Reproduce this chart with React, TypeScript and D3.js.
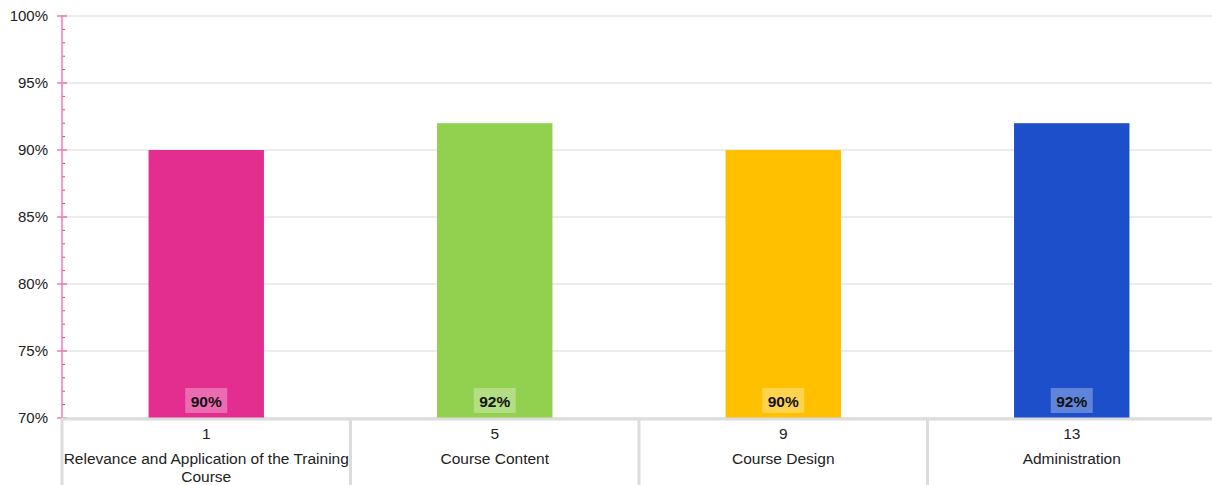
import React from "react";
import * as d3 from "d3";

const categories = ["1", "5", "9", "13"];
const names = [
  ["Relevance and Application of the Training", "Course"],
  ["Course Content"],
  ["Course Design"],
  ["Administration"],
];
const values = [90, 92, 90, 92];
const colors = ["#E32D8F", "#92D050", "#FFC000", "#1C4FC9"];
const yTicks = [70, 75, 80, 85, 90, 95, 100];

const W = 1212;
const H = 485;
const left = 62;
const top = 16;
const bottom = 418;
const right = 1216;

export default function App() {
  const x = d3.scaleBand<string>().domain(categories).range([left, right]).paddingInner(0.6).paddingOuter(0.3);
  const xb = d3.scaleBand<string>().domain(categories).range([left, right]);
  const y = d3.scaleLinear().domain([70, 100]).range([bottom, top]);
  const minor = d3.range(70, 101, 1);
  const font = "'Liberation Sans', Arial, sans-serif";
  return (
    <svg width={W} height={H} style={{ position: "absolute", left: 0, top: 0, display: "block" }} fontFamily={font}>
      <rect width={W} height={H} fill="#fff" />
      {yTicks.map((t) => (
        <g key={t}>
          <line x1={left} x2={W} y1={y(t)} y2={y(t)} stroke="#d9d9d9" strokeWidth={1} />
          <text x={48} y={y(t)} dy="0.35em" textAnchor="end" fontSize={15} fill="#222">
            {t}%
          </text>
        </g>
      ))}
      {values.map((v, i) => {
        const bx = x(categories[i])!;
        const bw = x.bandwidth();
        const cx = bx + bw / 2;
        return (
          <g key={i}>
            <rect x={bx} y={y(v)} width={bw} height={bottom - y(v)} fill={colors[i]} />
            <rect x={cx - 21} y={388} width={42} height={25} fill="#fff" fillOpacity={0.3} />
            <text x={cx} y={406.5} textAnchor="middle" fontSize={15.5} fontWeight="bold" fill="#111">
              {v}%
            </text>
          </g>
        );
      })}
      {minor.map((m) => (
        <line key={m} x1={m % 5 === 0 ? 57 : 62} x2={m % 5 === 0 ? 67 : 65} y1={y(m)} y2={y(m)} stroke="#E6388F" strokeWidth={1} />
      ))}
      <line x1={left} x2={left} y1={top} y2={bottom} stroke="#F07AB8" strokeWidth={1.5} />
      <line x1={left} x2={W} y1={bottom + 1} y2={bottom + 1} stroke="#dcdcdc" strokeWidth={3} />
      {categories.map((c, i) => {
        const bx = xb(c)!;
        const cx = bx + xb.bandwidth() / 2;
        return (
          <g key={c}>
            <line x1={bx} x2={bx} y1={bottom} y2={H} stroke="#dcdcdc" strokeWidth={3} />
            <text x={cx} y={438.5} textAnchor="middle" fontSize={15.5} fill="#222">
              {c}
            </text>
            {names[i].map((n, j) => (
              <text key={j} x={cx} y={463.5 + j * 18} textAnchor="middle" fontSize={15.5} fill="#222">
                {n}
              </text>
            ))}
          </g>
        );
      })}
    </svg>
  );
}
